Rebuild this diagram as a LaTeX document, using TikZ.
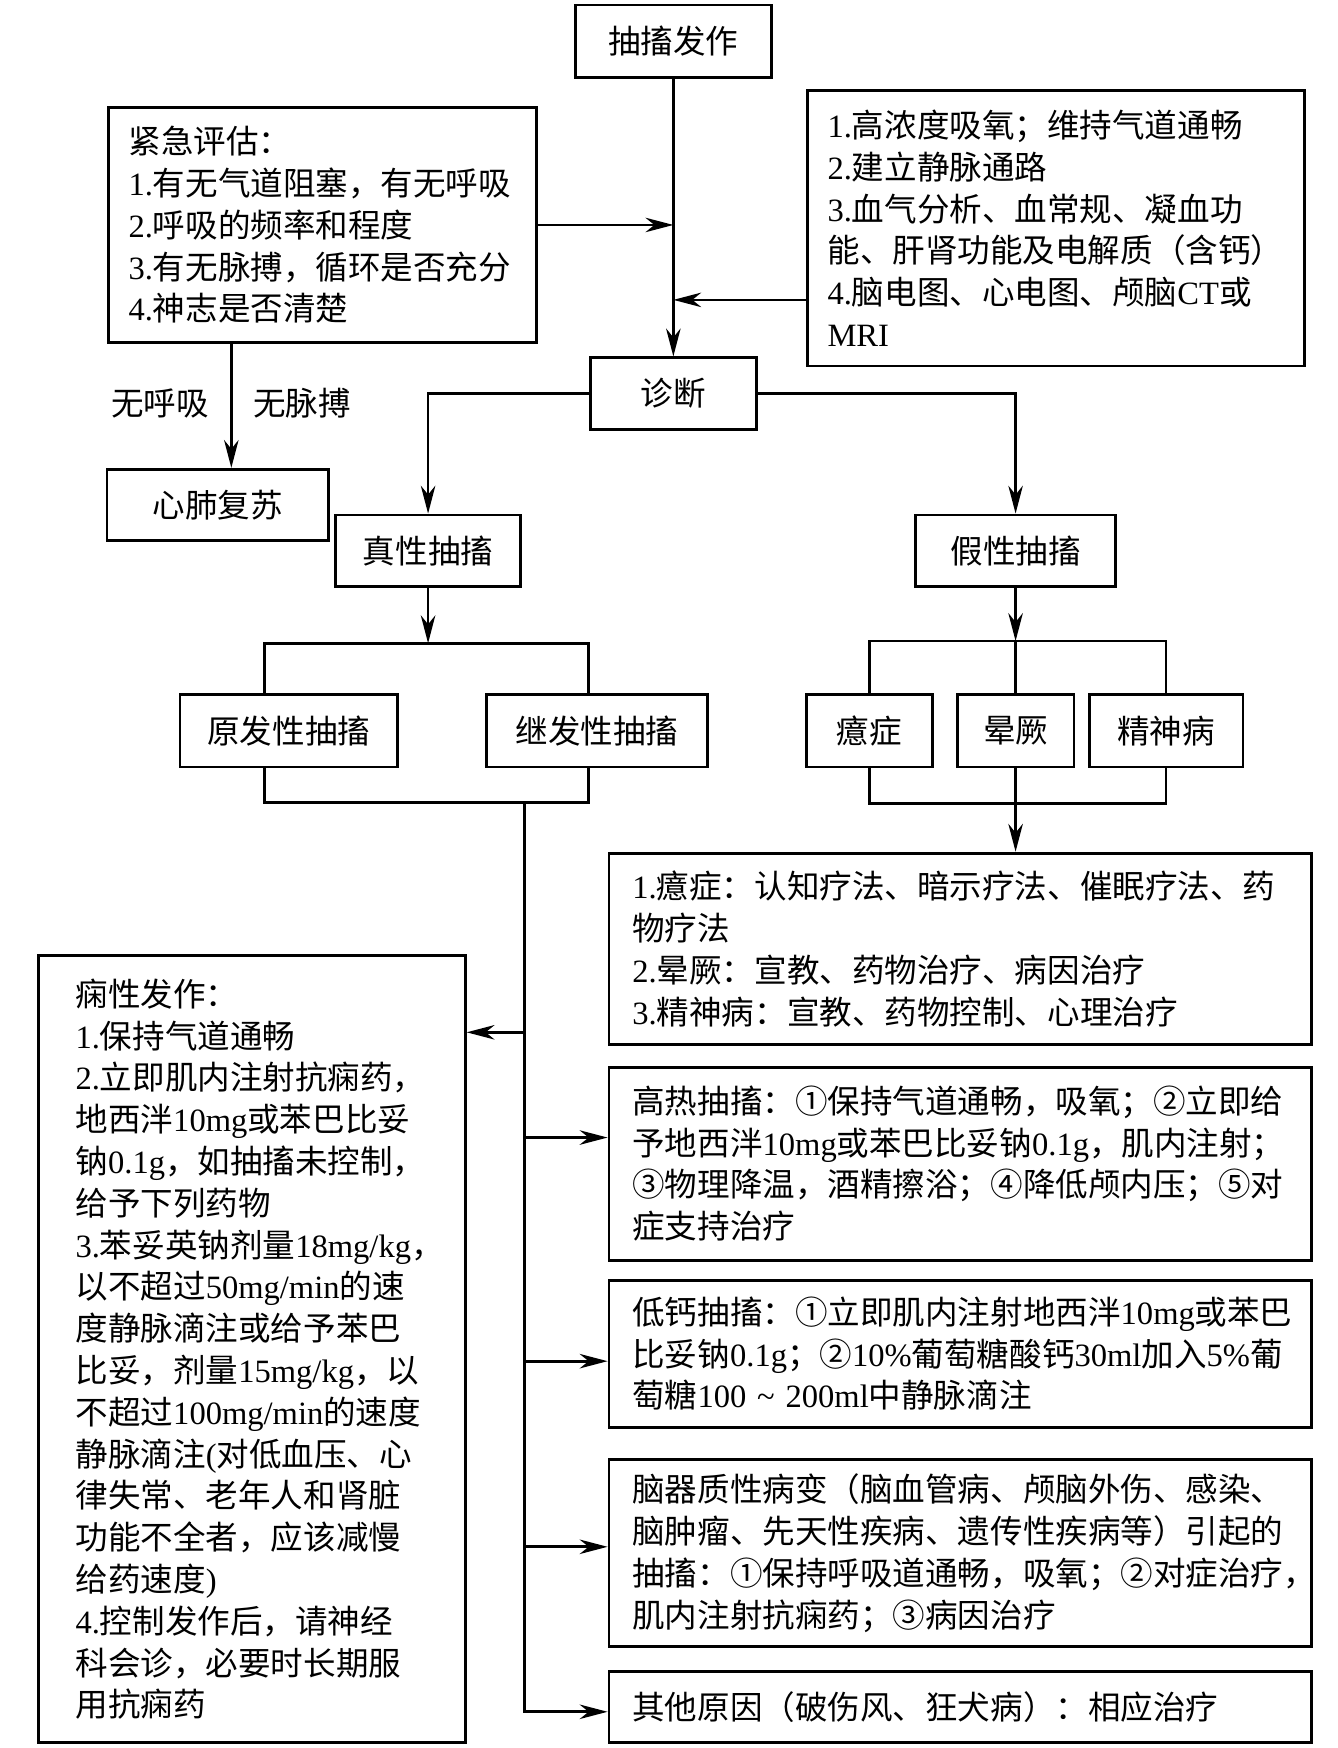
\documentclass[tikz,border=0pt]{standalone}
\usepackage{fontspec}
\setmainfont{Liberation Serif}
\newfontfamily\cjkfont{Noto Sans CJK SC}
\usetikzlibrary{arrows.meta}

% switch to the CJK font for Chinese characters and back for Latin ones
\XeTeXinterchartokenstate=1
\newXeTeXintercharclass\cjkclass
\newcount\cjkcode
\def\setcjkrange#1#2{\cjkcode=#1\relax
	\loop\XeTeXcharclass\cjkcode=\cjkclass
	\ifnum\cjkcode<#2\relax\advance\cjkcode by 1\repeat}
\setcjkrange{"4E00}{"9FFF}
\setcjkrange{"3000}{"303F}
\setcjkrange{"FF00}{"FFEF}
\setcjkrange{"2460}{"24FF}
\XeTeXinterchartoks 0 \cjkclass = {\cjkfont}
\XeTeXinterchartoks 4095 \cjkclass = {\cjkfont}
\XeTeXinterchartoks \cjkclass 0 = {\rmfamily}
\XeTeXinterchartoks 4095 0 = {\rmfamily}

\tikzset{
	chart/.style={font=\fontsize{14.6}{18.75}\selectfont},
	box/.style={chart, draw=black, line width=1.3pt, inner sep=0pt},
	listbox/.style={box, anchor=north west, align=left, inner ysep=0pt},
	arr/.style={-{Stealth[length=12.5pt,width=6.5pt,inset=4pt]}, line width=1.2pt},
	link/.style={line width=1.2pt}
}

\begin{document}
\begin{tikzpicture}[x=0.5pt, y=-0.5pt]
		\useasboundingbox (0,0) rectangle (1200,1568);

		% the onset and the first checks
		\node[box, minimum width=88pt, minimum height=32.5pt] (onset) at (604,37) {抽搐发作};
		\node[listbox, text width=174pt, inner xsep=9pt, minimum height=105.5pt] (assess) at (96,95)
			{紧急评估：\\1.有无气道阻塞，有无呼吸\\2.呼吸的频率和程度\\3.有无脉搏，循环是否充分\\4.神志是否清楚};
		\node[listbox, text width=205pt, inner xsep=9pt, minimum height=123.5pt] (prep) at (723,80)
			{1.高浓度吸氧；维持气道通畅\\2.建立静脉通路\\3.血气分析、血常规、凝血功\\能、肝肾功能及电解质（含钙）\\4.脑电图、心电图、颅脑CT或\\MRI};
		\node[box, minimum width=74.5pt, minimum height=32pt] (diag) at (604,353) {诊断};
		\node[box, minimum width=99.5pt, minimum height=32pt] (cpr) at (195.5,453) {心肺复苏};
		\node[chart] (nobreath) at (143.5,362) {无呼吸};
		\node[chart] (nopulse) at (271,362) {无脉搏};

		% the two kinds of seizure
		\node[box, minimum width=83pt, minimum height=32pt] (truesz) at (384,494) {真性抽搐};
		\node[box, minimum width=90pt, minimum height=32pt] (falsesz) at (911,494) {假性抽搐};
		\node[box, minimum width=97.5pt, minimum height=32.5pt] (prim) at (259,655.5) {原发性抽搐};
		\node[box, minimum width=99.5pt, minimum height=32.5pt] (sec) at (535.5,655.5) {继发性抽搐};
		\node[box, minimum width=56.7pt, minimum height=32.5pt] (hyst) at (780,655.5) {癔症};
		\node[box, minimum width=52.4pt, minimum height=32.5pt] (faint) at (911,655.5) {晕厥};
		\node[box, minimum width=69pt, minimum height=32.5pt] (psych) at (1046,655.5) {精神病};

		% the treatments
		\node[listbox, text width=294pt, inner xsep=10.5pt, minimum height=86pt] (treat) at (545,764)
			{1.癔症：认知疗法、暗示疗法、催眠疗法、药\\物疗法\\2.晕厥：宣教、药物治疗、病因治疗\\3.精神病：宣教、药物控制、心理治疗};
		\node[listbox, text width=158pt, inner xsep=16.75pt, minimum height=353pt] (epi) at (33,856)
			{痫性发作：\\1.保持气道通畅\\2.立即肌内注射抗痫药，\\地西泮10mg或苯巴比妥\\钠0.1g，如抽搐未控制，\\给予下列药物\\3.苯妥英钠剂量18mg/kg，\\以不超过50mg/min的速\\度静脉滴注或给予苯巴\\比妥，剂量15mg/kg，以\\不超过100mg/min的速度\\静脉滴注(对低血压、心\\律失常、老年人和肾脏\\功能不全者，应该减慢\\给药速度)\\4.控制发作后，请神经\\科会诊，必要时长期服\\用抗痫药};
		\node[listbox, text width=294pt, inner xsep=10.5pt, minimum height=86.5pt] (fever) at (545,956)
			{高热抽搐：①保持气道通畅，吸氧；②立即给\\予地西泮10mg或苯巴比妥钠0.1g，肌内注射；\\③物理降温，酒精擦浴；④降低颅内压；⑤对\\症支持治疗};
		\node[listbox, text width=294pt, inner xsep=10.5pt, minimum height=66pt] (calc) at (545,1147)
			{低钙抽搐：①立即肌内注射地西泮10mg或苯巴\\比妥钠0.1g；②10\%葡萄糖酸钙30ml加入5\%葡\\萄糖100 \textasciitilde{} 200ml中静脉滴注};
		\node[listbox, text width=294pt, inner xsep=10.5pt, minimum height=84pt] (organic) at (545,1308)
			{脑器质性病变（脑血管病、颅脑外伤、感染、\\脑肿瘤、先天性疾病、遗传性疾病等）引起的\\抽搐：①保持呼吸道通畅，吸氧；②对症治疗，\\肌内注射抗痫药；③病因治疗};
		\node[listbox, text width=294pt, inner xsep=10.5pt, minimum height=32pt] (other) at (545,1498)
			{其他原因（破伤风、狂犬病）：相应治疗};

		% the connectors at the top
		\coordinate (prepin) at (604,269);
		\coordinate (cprtop) at (207.5,306);
		\draw[arr] (onset) -- (diag);
		\draw[arr] (assess.east) -- (assess.east -| onset.south);
		\draw[arr] (prep.west |- prepin) -- (prepin);
		\draw[arr] (cprtop) -- (cprtop |- cpr.north);
		\draw[arr] (diag.west) -| (truesz.north);
		\draw[arr] (diag.east) -| (falsesz.north);

		% the brackets
		\coordinate (tl) at (237,577);
		\coordinate (tr) at (528,577);
		\coordinate (bl) at (237,720);
		\coordinate (br) at (528,720);
		\coordinate (fbr) at (911,575);
		\coordinate (fbl) at (911,721);
		\draw[arr] (truesz.south) -- (truesz.south |- tl);
		\draw[link] (tl |- prim.north) -- (tl) -- (tr) -- (tr |- sec.north);
		\draw[link] (bl |- prim.south) -- (bl) -- (br) -- (br |- sec.south);
		\draw[arr] (falsesz.south) -- (fbr);
		\draw[link] (hyst.north) |- (fbr) -| (psych.north);
		\draw[link] (faint.north) -- (fbr);
		\draw[link] (hyst.south) |- (fbl) -| (psych.south);
		\draw[link] (faint.south) -- (fbl);
		\draw[arr] (fbl) -- (treat.north -| fbl);

		% the trunk down to the causes
		\coordinate (trunk) at (470.6,720);
		\coordinate (toepi) at (470.6,926);
		\coordinate (tofever) at (470.6,1020.4);
		\coordinate (tocalc) at (470.6,1221);
		\coordinate (toorg) at (470.6,1387.5);
		\coordinate (toother) at (470.6,1535.5);
		\draw[arr] (trunk) -- (toother) -- (toother -| other.west);
		\draw[arr] (toepi) -- (toepi -| epi.east);
		\draw[arr] (tofever) -- (tofever -| fever.west);
		\draw[arr] (tocalc) -- (tocalc -| calc.west);
		\draw[arr] (toorg) -- (toorg -| organic.west);
	\end{tikzpicture}
\end{document}
